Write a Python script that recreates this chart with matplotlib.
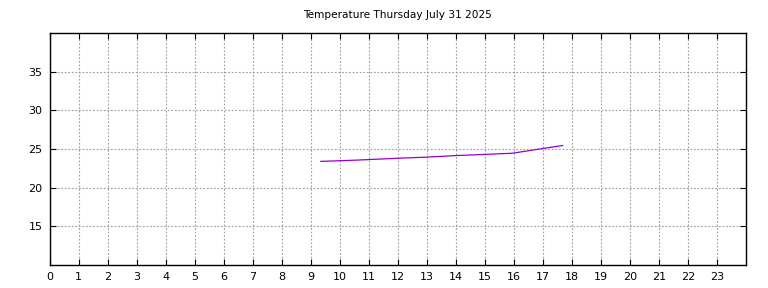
import numpy as np
import matplotlib.pyplot as plt

# readings of the day (hour, deg C)
hours = [9.35, 10.5, 12.0, 13.0, 14.0, 15.0, 15.95, 16.8, 17.68]
temps = [23.4, 23.55, 23.8, 23.95, 24.15, 24.3, 24.45, 24.95, 25.45]
title = "Temperature Thursday July 31 2025"

fig = plt.figure(figsize=(7.68, 2.88), dpi=100)
ax = fig.add_axes([49.5/768, 1-265/288, (746-49.5)/768, (265-33)/288])
ax.plot(hours, temps, color='#9400d3', lw=0.9)

ax.set_xlim(0, 24)
ax.set_ylim(10, 40)
ax.set_xticks(np.arange(0, 24))
ax.set_yticks([15, 20, 25, 30, 35])
ax.tick_params(direction='in', top=True, right=True, labelsize=8, length=4, width=0.8, pad=5)
ax.grid(True, color='#a0a0a0', linestyle=(0, (1.6, 1.6)), linewidth=0.8)
for s in ax.spines.values():
    s.set_linewidth(1)
ax.set_title(title, fontsize=7.6, pad=11)

fig.savefig('out.png', dpi=100)
